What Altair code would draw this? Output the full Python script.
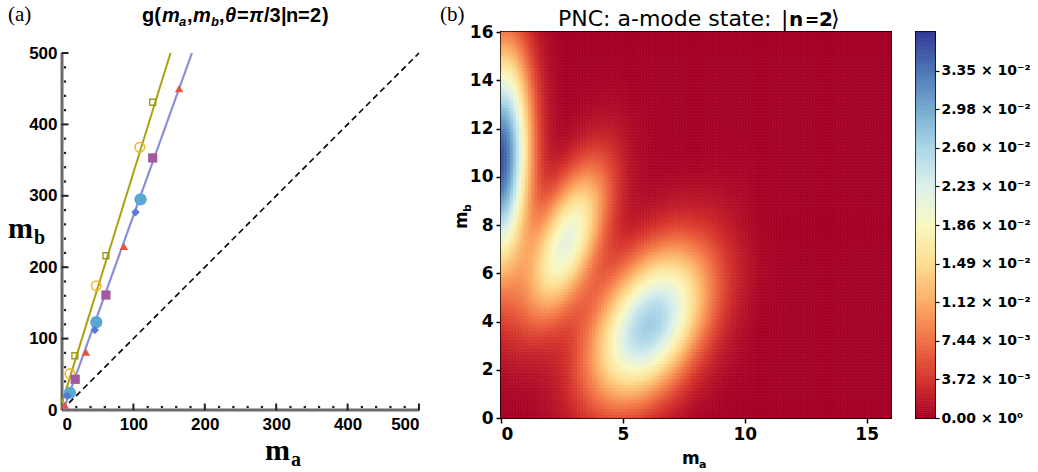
import altair as alt
import numpy as np
import pandas as pd

# ---------------- panel (a) data ----------------
olive_sq_ma = [18, 61.5, 127]
olive_sq_mb = [76, 216, 431]
open_circ_ma = [11, 48, 109]
open_circ_mb = [51, 174, 368]
purple_sq_ma = [18.5, 61.5, 127]
purple_sq_mb = [43, 161, 353]
red_tri_ma = [4, 33.5, 86.6, 164]
red_tri_mb = [7, 81, 229, 450]
cyan_circ_ma = [11, 48, 110]
cyan_circ_mb = [24, 123, 295]
blue_dia_ma = [7, 46, 103]
blue_dia_mb = [20, 112, 277]
olive_line_ma = [0, 152]
olive_line_mb = [10, 500]
blue_line_ma = [2, 182]
blue_line_mb = [0, 500]
diag_ma = [0, 500]
diag_mb = [0, 500]
axis_major = [0, 100, 200, 300, 400, 500]
axis_minor = [20, 40, 60, 80, 120, 140, 160, 180, 220, 240, 260, 280,
              320, 340, 360, 380, 420, 440, 460, 480]

# ---------------- panel (b) data ----------------
lobe_ma = [0.0, 2.7, 6.1]
lobe_mb = [10.7, 7.3, 3.9]
lobe_peak = [0.0352, 0.0208, 0.0268]
lobe_sig_major = [3.1, 2.3, 2.4]
lobe_sig_minor = [0.8, 0.88, 1.4]
lobe_tilt_deg = [88, 70, 62]
heat_xticks = [0, 5, 10, 15]
heat_yticks = [0, 2, 4, 6, 8, 10, 12, 14, 16]
cb_step = 0.003719
cb_max = 10 * cb_step
cb_ticks = [k * cb_step for k in range(10)]
cb_labels = ["0.00 × 10⁰", "3.72 × 10⁻³", "7.44 × 10⁻³", "1.12 × 10⁻²",
             "1.49 × 10⁻²", "1.86 × 10⁻²", "2.23 × 10⁻²", "2.60 × 10⁻²",
             "2.98 × 10⁻²", "3.35 × 10⁻²"]

# ---------------- helpers ----------------
one = pd.DataFrame({"k": [0]})


def txt(s, x, y, size, font, weight="normal", style="normal", angle=0,
        align="left", baseline="alphabetic", opacity=1.0):
    kw = dict(text=s, fontSize=size, font=font, fontWeight=weight,
              fontStyle=style, align=align, baseline=baseline,
              color="black", opacity=opacity)
    if angle:
        kw["angle"] = angle
    return alt.Chart(one).mark_text(**kw).encode(x=alt.value(x), y=alt.value(y))


TOP = 31  # common plot top (figure pixels)

# ================= panel (a) =================
LX0, LY0 = 62, TOP
W_A = 357
H_A = 409 - TOP          # plot spans down to y=409 (mb=0)
YMAX_A = 500 * H_A / 357.0  # mb=500 sits at y=52

ax_x = alt.Axis(values=axis_major, labelFont="Liberation Sans", labelFontWeight="bold",
                labelFontSize=17, labelColor="black", ticks=False, domain=False,
                title=None, grid=False, labelPadding=6, format="d")
ax_y = alt.Axis(values=axis_major, labelFont="Liberation Sans", labelFontWeight="bold",
                labelFontSize=17, labelColor="black", ticks=False, domain=False,
                title=None, grid=False, labelPadding=5, format="d")
xL = alt.X("ma:Q", scale=alt.Scale(domain=[0, 500], nice=False), axis=ax_x)
yL = alt.Y("mb:Q", scale=alt.Scale(domain=[0, YMAX_A], nice=False), axis=ax_y)


def line_layer(xs, ys, **kw):
    return alt.Chart(pd.DataFrame({"ma": xs, "mb": ys})).mark_line(**kw).encode(x=xL, y=yL)


def pt_layer(xs, ys, **kw):
    return alt.Chart(pd.DataFrame({"ma": xs, "mb": ys})).mark_point(**kw).encode(x=xL, y=yL)


layers_a = [
    line_layer([0, 500], [0, 0], color="#6b6b6b", strokeWidth=3),
    line_layer([0, 0], [0, 500], color="#6b6b6b", strokeWidth=3),
    line_layer(diag_ma, diag_mb, color="black", strokeWidth=1.6, strokeDash=[6, 4]),
    pt_layer(axis_minor, [0] * len(axis_minor), shape="square", filled=True, size=5,
             color="#222222", opacity=1, yOffset=-3),
    pt_layer([0] * len(axis_minor), axis_minor, shape="square", filled=True, size=5,
             color="#222222", opacity=1, xOffset=3),
    line_layer(olive_line_ma, olive_line_mb, color="#a8a40c", strokeWidth=2),
    line_layer(blue_line_ma, blue_line_mb, color="#8a8ed8", strokeWidth=2.2),
    pt_layer(olive_sq_ma, olive_sq_mb, shape="square", filled=False, size=35,
             color="#9c9a1e", strokeWidth=1.4, opacity=1),
    pt_layer(open_circ_ma, open_circ_mb, shape="circle", filled=False, size=90,
             color="#f3b62c", strokeWidth=1.6, opacity=1),
    pt_layer(purple_sq_ma, purple_sq_mb, shape="square", filled=True, size=85,
             color="#a2599e", opacity=1),
    pt_layer(red_tri_ma, red_tri_mb, shape="triangle-up", filled=True, size=70,
             color="#e9523b", opacity=1),
    pt_layer(cyan_circ_ma, cyan_circ_mb, shape="circle", filled=True, size=150,
             color="#5aa7d3", opacity=1),
    pt_layer(blue_dia_ma, blue_dia_mb, shape="diamond", filled=True, size=70,
             color="#5a78d8", opacity=1),
]

# major tick marks on axes (short strokes inside)
layers_a.append(alt.Chart(pd.DataFrame({"ma": axis_major[1:], "mb": [0] * 5}))
                .mark_tick(orient="vertical", size=7, thickness=2, color="#222222", opacity=1,
                           yOffset=-3).encode(x=xL, y=yL))
layers_a.append(alt.Chart(pd.DataFrame({"ma": [0] * 5, "mb": axis_major[1:]}))
                .mark_tick(orient="horizontal", size=7, thickness=2, color="#222222", opacity=1,
                           xOffset=3).encode(x=xL, y=yL))

# title pieces  g(m_a, m_b, θ=π/3|n=2)
title_pieces = [("g(", 142, 20, "normal", 0), ("m", 162, 20, "italic", 0),
                ("a", 179, 13, "italic", 4), (",", 187, 20, "normal", 0),
                ("m", 193, 20, "italic", 0), ("b", 211, 13, "italic", 4),
                (",", 219, 20, "normal", 0), ("θ", 225, 20, "italic", 0),
                ("=", 237, 20, "normal", 0), ("π", 249, 20, "italic", 0),
                ("/3", 264, 20, "normal", 0), ("|", 281, 20, "normal", 0),
                ("n", 286, 20, "normal", 0), ("=", 298, 20, "normal", 0),
                ("2", 310, 20, "normal", 0), (")", 322, 20, "normal", 0)]
for s, x, sz, st, dy in title_pieces:
    layers_a.append(txt(s, x - LX0, 21 - LY0 + dy, sz, "Liberation Sans", "bold", st))

layers_a += [
    txt("(a)", 8 - LX0, 20 - LY0, 21, "Liberation Serif"),
    txt("m", 8 - LX0, 237 - LY0, 30, "Liberation Serif", "bold"),
    txt("b", 34 - LX0, 243 - LY0, 20, "Liberation Serif", "bold"),
    txt("m", 265 - LX0, 459 - LY0, 30, "Liberation Serif", "bold"),
    txt("a", 291 - LX0, 465 - LY0, 20, "Liberation Serif", "bold"),
]

panel_a = alt.layer(*layers_a).properties(width=W_A, height=H_A,
                                          view=alt.ViewBackground(stroke=None))

# ================= panel (b) =================
HX0, HY0 = 501, TOP
W_B, H_B = 390, 386
N = 128
d = 16.0 / N
c = (np.arange(N) + 0.5) * d
X, Y = np.meshgrid(c, c)
V = np.zeros_like(X)
for cx, cy, a, smaj, smin, tdeg in zip(lobe_ma, lobe_mb, lobe_peak, lobe_sig_major,
                                        lobe_sig_minor, lobe_tilt_deg):
    t = np.radians(tdeg)
    dx, dy = X - cx, Y - cy
    u = dx * np.cos(t) + dy * np.sin(t)
    w = -dx * np.sin(t) + dy * np.cos(t)
    V += a * np.exp(-u ** 2 / (2 * smaj ** 2) - w ** 2 / (2 * smin ** 2))
V = np.clip(V, 0, cb_max)

heat_df = pd.DataFrame({
    "x0": (X - d / 2).ravel(), "x1": (X + d / 2).ravel(),
    "y0": (Y - d / 2).ravel(), "y1": (Y + d / 2).ravel(),
    "v": V.ravel().round(6),
})
cscale = alt.Scale(scheme="redyellowblue", domain=[0, cb_max])

hx_axis = alt.Axis(values=heat_xticks, labelFont="DejaVu Sans", labelFontWeight="bold",
                   labelFontSize=17, labelColor="black", tickSize=5, tickWidth=1.5,
                   tickColor="black", domain=False, title=None, grid=False, labelPadding=3)
hy_axis = alt.Axis(values=heat_yticks, labelFont="DejaVu Sans", labelFontWeight="bold",
                   labelFontSize=17, labelColor="black", tickSize=5, tickWidth=1.5,
                   tickColor="black", domain=False, title=None, grid=False, labelPadding=3)

heat = alt.Chart(heat_df).mark_rect(strokeWidth=0.6).encode(
    x=alt.X("x0:Q", scale=alt.Scale(domain=[0, 16], nice=False), axis=hx_axis),
    x2="x1",
    y=alt.Y("y0:Q", scale=alt.Scale(domain=[0, 16], nice=False), axis=hy_axis),
    y2="y1",
    color=alt.Color("v:Q", scale=cscale, legend=None),
    stroke=alt.Stroke("v:Q", scale=cscale, legend=None),
)

layers_b = [heat,
            txt("(b)", 440 - HX0, 20 - HY0, 21, "Liberation Serif"),
            txt("PNC: a-mode state:", 558 - HX0, 25 - HY0, 22, "DejaVu Sans"),
            txt("|", 781 - HX0, 25 - HY0, 22, "DejaVu Sans"),
            txt("n", 789 - HX0, 25 - HY0, 20, "DejaVu Sans", "bold"),
            txt("=", 805 - HX0, 25 - HY0, 17, "DejaVu Sans", "bold"),
            txt("2", 819 - HX0, 25 - HY0, 20, "DejaVu Sans", "bold"),
            txt("⟩", 831 - HX0, 25 - HY0, 22, "DejaVu Sans"),
            txt("m", 682 - HX0, 463 - HY0, 17, "DejaVu Sans", "bold"),
            txt("a", 699 - HX0, 467 - HY0, 11, "DejaVu Sans", "bold"),
            txt("m", 467 - HX0, 228 - HY0, 17, "DejaVu Sans", "bold", angle=270),
            txt("b", 471 - HX0, 211 - HY0, 11, "DejaVu Sans", "bold", angle=270),
            ]
panel_b = alt.layer(*layers_b).properties(
    width=W_B, height=H_B, view=alt.ViewBackground(stroke="black", strokeWidth=2))

# ================= colorbar =================
nb = 200
cb_v = np.linspace(0, cb_max, nb + 1)
cb_df = pd.DataFrame({"v0": cb_v[:-1], "v1": cb_v[1:], "v": (cb_v[:-1] + cb_v[1:]) / 2})
lab_arr = "[" + ",".join("'" + s + "'" for s in cb_labels) + "]"
cb_axis = alt.Axis(values=cb_ticks, orient="right", labelFont="DejaVu Sans",
                   labelFontWeight="bold", labelFontSize=14, labelColor="black",
                   tickSize=4, tickWidth=1.2, tickColor="black", domain=False,
                   title=None, grid=False, labelPadding=2,
                   labelExpr=lab_arr + "[round(datum.value/" + str(cb_step) + ")]")
cbar = alt.Chart(cb_df).mark_rect(strokeWidth=0.6).encode(
    x=alt.value(0), x2=alt.value(19),
    y=alt.Y("v0:Q", scale=alt.Scale(domain=[0, cb_max], nice=False), axis=cb_axis),
    y2="v1",
    color=alt.Color("v:Q", scale=cscale, legend=None),
    stroke=alt.Stroke("v:Q", scale=cscale, legend=None),
)
panel_c = alt.layer(cbar, txt(".", -8, 200, 10, "DejaVu Sans", opacity=0)).properties(
    width=19, height=386, view=alt.ViewBackground(stroke="black", strokeWidth=2))

chart = alt.hconcat(panel_a, panel_b, panel_c, spacing=14).resolve_scale(
    color="shared").properties(padding={"left": 8, "top": 3, "right": 0, "bottom": 0}
                               ).configure_view(strokeWidth=0)

chart.save("out.html", embed_options={"renderer": "svg", "actions": False})
